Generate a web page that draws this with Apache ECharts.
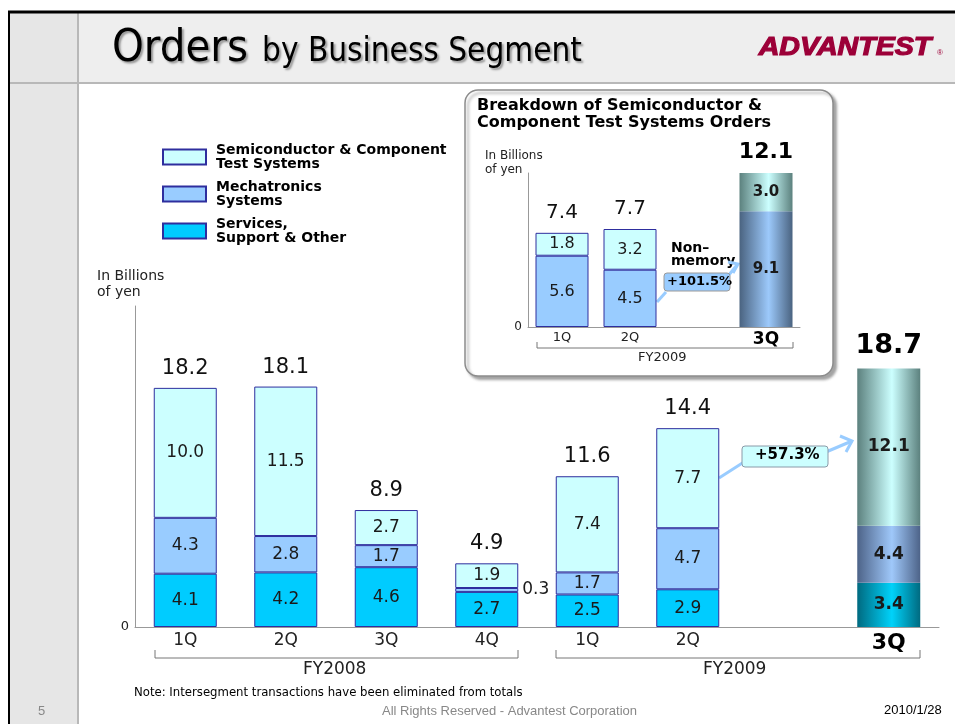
<!DOCTYPE html>
<html>
<head>
<meta charset="utf-8">
<title>Orders by Business Segment</title>
<script src="https://cdn.jsdelivr.net/npm/echarts@6/dist/echarts.min.js"></script>
<style>
    html, body { margin: 0; padding: 0; background: #fff; }
    #chart { width: 955px; height: 724px; }
</style>
</head>
<body>
<div id="chart"></div>
<script>
    // main chart: quarters (empty slot before FY2009 3Q)
    var quarters = ['1Q', '2Q', '3Q', '4Q', '1Q', '2Q', '', '3Q'];
    var semiTest = [10.0, 11.5, 2.7, 1.9, 7.4, 7.7, null, 12.1];
    var mechatronics = [4.3, 2.8, 1.7, 0.3, 1.7, 4.7, null, 4.4];
    var services = [4.1, 4.2, 4.6, 2.7, 2.5, 2.9, null, 3.4];
    var totals = [18.2, 18.1, 8.9, 4.9, 11.6, 14.4, null, 18.7];

    // inset: breakdown of semiconductor & component test systems
    var insetQuarters = ['1Q', '2Q', '', '3Q'];
    var nonMemory = [5.6, 4.5, null, 9.1];
    var memory = [1.8, 3.2, null, 3.0];
    var insetTotals = [7.4, 7.7, null, 12.1];

    var FONT = 'DejaVu Sans, sans-serif';
    var COND = 'DejaVu Sans Condensed, Liberation Sans Narrow, sans-serif';
    var chart = echarts.init(document.getElementById('chart'));

    function grad(edge, mid) {
        return new echarts.graphic.LinearGradient(0, 0, 1, 0, [
            {offset: 0, color: edge}, {offset: 0.55, color: mid}, {offset: 1, color: edge}
        ]);
    }

    // the last (current) quarter is drawn with a shaded bar
    function seg(arr, last, edge, mid, lastIdx) {
        return arr.map(function (v, i) {
            if (v == null) return '-';
            if (i === lastIdx) {
                return {value: v, itemStyle: {color: grad(edge, mid), borderWidth: 0},
                        label: {fontWeight: 'bold', fontSize: last}};
            }
            return v;
        });
    }

    var mechData = seg(mechatronics, 17, '#4d6388', '#9fc8fa', 7);
    mechData[3] = {value: 0.3, label: {position: 'right', distance: 4}};

    var totalLabels = totals.map(function (t) { return t == null ? '-' : 0; });
    var insetTotalLabels = insetTotals.map(function (t) { return t == null ? '-' : 0; });

    function oneDecimal(p) { return Number(p.value).toFixed(1); }

    var segLabel = {show: true, position: 'inside', color: '#1a1a1a', fontSize: 17, fontFamily: FONT, formatter: oneDecimal};
    var insetLabel = {show: true, position: 'inside', color: '#1a1a1a', fontSize: 16, fontFamily: FONT, formatter: oneDecimal};

    var option = {
        animation: false,
        backgroundColor: '#ffffff',
        textStyle: {fontFamily: FONT},
        legend: {
            data: ['Semiconductor & Component\nTest Systems', 'Mechatronics\nSystems', 'Services,\nSupport & Other'],
            orient: 'vertical',
            left: 162,
            top: 143,
            padding: 0,
            icon: 'rect',
            itemWidth: 43,
            itemHeight: 15,
            itemGap: 9,
            selectedMode: false,
            textStyle: {fontSize: 14, fontWeight: 'bold', color: '#000', lineHeight: 14, padding: [0, 0, 0, 5], fontFamily: FONT}
        },
        grid: [
            {left: 135, right: 16, top: 306, bottom: 97},
            {left: 528, right: 155, top: 173, bottom: 397}
        ],
        xAxis: [
            {
                type: 'category', gridIndex: 0, data: quarters,
                axisLine: {lineStyle: {color: '#999', width: 1}},
                axisTick: {show: false},
                axisLabel: {
                    interval: 0, margin: 5, fontSize: 17, color: '#222', fontFamily: FONT,
                    formatter: function (v, i) { return i === 7 ? '{b|' + v + '}' : v; },
                    rich: {b: {fontSize: 22, fontWeight: 'bold', color: '#000', fontFamily: FONT}}
                }
            },
            {
                type: 'category', gridIndex: 1, data: insetQuarters,
                axisLine: {lineStyle: {color: '#999', width: 1}},
                axisTick: {show: false},
                axisLabel: {
                    interval: 0, margin: 4, fontSize: 13, color: '#222', fontFamily: FONT,
                    formatter: function (v, i) { return i === 3 ? '{b|' + v + '}' : v; },
                    rich: {b: {fontSize: 17, fontWeight: 'bold', color: '#000', fontFamily: FONT}}
                }
            }
        ],
        yAxis: [
            {
                type: 'value', gridIndex: 0, min: 0, max: 24.7,
                splitLine: {show: false}, axisTick: {show: false},
                axisLine: {show: true, lineStyle: {color: '#999'}},
                axisLabel: {fontSize: 13, color: '#222', margin: 6, formatter: function (v) { return v === 0 ? '0' : ''; }}
            },
            {
                type: 'value', gridIndex: 1, min: 0, max: 12.1,
                splitLine: {show: false}, axisTick: {show: false},
                axisLine: {show: true, lineStyle: {color: '#999'}},
                axisLabel: {fontSize: 12, color: '#222', margin: 6, formatter: function (v) { return v === 0 ? '0' : ''; }}
            }
        ],
        series: [
            {
                name: 'Services,\nSupport & Other', type: 'bar', stack: 'main', barWidth: 63,
                data: seg(services, 17, '#006a80', '#00d2fa', 7),
                itemStyle: {color: '#00ccff', borderColor: '#2e2e9e', borderWidth: 1},
                label: segLabel
            },
            {
                name: 'Mechatronics\nSystems', type: 'bar', stack: 'main', barWidth: 63,
                data: mechData,
                itemStyle: {color: '#99ccff', borderColor: '#2e2e9e', borderWidth: 1},
                label: segLabel
            },
            {
                name: 'Semiconductor & Component\nTest Systems', type: 'bar', stack: 'main', barWidth: 63,
                data: seg(semiTest, 17, '#5c817e', '#ccffff', 7),
                itemStyle: {color: '#ccffff', borderColor: '#2e2e9e', borderWidth: 1},
                label: segLabel
            },
            {
                name: 'total', type: 'bar', stack: 'main', barWidth: 63,
                data: totalLabels,
                itemStyle: {color: 'transparent'},
                label: {
                    show: true, position: 'top', distance: 9, color: '#111', fontFamily: FONT, fontSize: 21,
                    formatter: function (p) {
                        var t = totals[p.dataIndex];
                        return p.dataIndex === 7 ? '{b|' + t.toFixed(1) + '}' : t.toFixed(1);
                    },
                    rich: {b: {fontSize: 27, fontWeight: 'bold', color: '#000', fontFamily: FONT}}
                }
            },
            {
                name: 'Non-memory', type: 'bar', stack: 'inset', barWidth: 53,
                xAxisIndex: 1, yAxisIndex: 1,
                data: seg(nonMemory, 15, '#4a6380', '#9cc9fb', 3),
                itemStyle: {color: '#99ccff', borderColor: '#2e2e9e', borderWidth: 1},
                label: insetLabel
            },
            {
                name: 'Memory', type: 'bar', stack: 'inset', barWidth: 53,
                xAxisIndex: 1, yAxisIndex: 1,
                data: seg(memory, 15, '#5c817e', '#ccffff', 3),
                itemStyle: {color: '#ccffff', borderColor: '#2e2e9e', borderWidth: 1},
                label: insetLabel
            },
            {
                name: 'insetTotal', type: 'bar', stack: 'inset', barWidth: 53,
                xAxisIndex: 1, yAxisIndex: 1,
                data: insetTotalLabels,
                itemStyle: {color: 'transparent'},
                label: {
                    show: true, position: 'top', distance: 10, color: '#111', fontFamily: FONT, fontSize: 20,
                    formatter: function (p) {
                        var t = insetTotals[p.dataIndex];
                        return p.dataIndex === 3 ? '{b|' + t.toFixed(1) + '}' : t.toFixed(1);
                    },
                    rich: {b: {fontSize: 22, fontWeight: 'bold', color: '#000', fontFamily: FONT}}
                }
            }
        ],
        graphic: [
            // slide frame
            {type: 'rect', z: -10, shape: {x: 10, y: 13, width: 945, height: 70}, style: {fill: '#eeeeee'}},
            {type: 'rect', z: -9, shape: {x: 10, y: 13, width: 68, height: 711}, style: {fill: '#e6e6e6'}},
            {type: 'line', z: -8, shape: {x1: 78, y1: 13, x2: 78, y2: 724}, style: {stroke: '#b8b8b8', lineWidth: 2}},
            {type: 'line', z: -8, shape: {x1: 10, y1: 83, x2: 955, y2: 83}, style: {stroke: '#b8b8b8', lineWidth: 2}},
            {type: 'line', z: -7, shape: {x1: 8, y1: 12, x2: 955, y2: 12}, style: {stroke: '#000', lineWidth: 3}},
            {type: 'line', z: -7, shape: {x1: 9, y1: 12, x2: 9, y2: 724}, style: {stroke: '#000', lineWidth: 2}},
            {
                type: 'text', left: 112, top: 27,
                style: {
                    text: '{a|Orders}{s| }{b|by Business Segment}',
                    rich: {
                        a: {fontSize: 45, fontFamily: COND, fill: '#000',
                            textShadowColor: '#999', textShadowOffsetX: 2, textShadowOffsetY: 2, textShadowBlur: 2},
                        s: {fontSize: 33, width: 14},
                        b: {fontSize: 33, fontFamily: COND, fill: '#000', padding: [6, 0, 0, 0],
                            textShadowColor: '#999', textShadowOffsetX: 2, textShadowOffsetY: 2, textShadowBlur: 2}
                    }
                }
            },
            {
                type: 'text', left: 758, top: 34, scaleX: 1.1,
                style: {text: 'ADVANTEST', fontSize: 26, fontWeight: 'bold', fontStyle: 'italic',
                        fontFamily: 'Liberation Sans, sans-serif', fill: '#9c0038', stroke: '#9c0038', lineWidth: 1.2}
            },
            {type: 'text', left: 937, top: 49, style: {text: '®', fontSize: 8, fill: '#9c0038'}},

            // inset panel
            {
                type: 'rect', z: -5, shape: {x: 465, y: 90, width: 368, height: 286, r: 13},
                style: {fill: '#fff', stroke: '#8c8c8c', lineWidth: 1.5,
                        shadowColor: 'rgba(0,0,0,0.35)', shadowOffsetX: 3, shadowOffsetY: 3, shadowBlur: 3}
            },
            {
                type: 'text', left: 477, top: 97,
                style: {text: 'Breakdown of Semiconductor &\nComponent Test Systems Orders', fontSize: 16,
                        fontWeight: 'bold', lineHeight: 17, fontFamily: FONT, fill: '#000'}
            },
            {type: 'text', left: 485, top: 149, style: {text: 'In Billions\nof yen', fontSize: 12, lineHeight: 14, fontFamily: FONT, fill: '#222'}},
            {type: 'polyline', shape: {points: [[537, 342], [537, 348], [793, 348], [793, 342]]}, style: {stroke: '#777', lineWidth: 1, fill: null}},
            {type: 'text', left: 638, top: 351, style: {text: 'FY2009', fontSize: 13, fontFamily: FONT, fill: '#222'}},
            {type: 'text', left: 671, top: 241, style: {text: 'Non–\nmemory', fontSize: 14, fontWeight: 'bold', lineHeight: 13, fontFamily: FONT, fill: '#000'}},
            {type: 'polyline', shape: {points: [[657, 302], [666, 292]]}, style: {stroke: '#99ccff', lineWidth: 3, fill: null}},
            {type: 'polyline', shape: {points: [[728, 276], [737, 265]]}, style: {stroke: '#99ccff', lineWidth: 3, fill: null}},
            {type: 'polyline', shape: {points: [[728, 262], [738, 264], [733, 273]]}, style: {stroke: '#99ccff', lineWidth: 3, fill: null}},
            {
                type: 'rect', shape: {x: 664, y: 273, width: 66, height: 18, r: 3},
                style: {fill: '#99ccff', stroke: '#9a9a9a', lineWidth: 1}
            },
            {type: 'text', left: 667, top: 275, style: {text: '+101.5%', fontSize: 13, fontWeight: 'bold', fontFamily: FONT, fill: '#000'}},

            // axis notes of main chart
            {type: 'text', left: 97, top: 268, style: {text: 'In Billions\nof yen', fontSize: 14, lineHeight: 16, fontFamily: FONT, fill: '#222'}},
            {type: 'polyline', shape: {points: [[155, 650], [155, 658], [518, 658], [518, 650]]}, style: {stroke: '#777', lineWidth: 1, fill: null}},
            {type: 'polyline', shape: {points: [[556, 650], [556, 658], [920, 658], [920, 650]]}, style: {stroke: '#777', lineWidth: 1, fill: null}},
            {type: 'text', left: 303, top: 661, style: {text: 'FY2008', fontSize: 17, fontFamily: FONT, fill: '#222'}},
            {type: 'text', left: 703, top: 661, style: {text: 'FY2009', fontSize: 17, fontFamily: FONT, fill: '#222'}},

            // +57.3% callout
            {type: 'polyline', shape: {points: [[719, 478], [744, 462]]}, style: {stroke: '#99ccff', lineWidth: 3, fill: null}},
            {type: 'polyline', shape: {points: [[826, 452], [852, 441]]}, style: {stroke: '#99ccff', lineWidth: 3, fill: null}},
            {type: 'polyline', shape: {points: [[840, 436], [852, 441], [846, 452]]}, style: {stroke: '#99ccff', lineWidth: 3, fill: null}},
            {
                type: 'rect', shape: {x: 742, y: 446, width: 86, height: 21, r: 3},
                style: {fill: '#ccffff', stroke: '#8a9aa8', lineWidth: 1}
            },
            {type: 'text', left: 755, top: 448, style: {text: '+57.3%', fontSize: 15, fontWeight: 'bold', fontFamily: FONT, fill: '#000'}},

            // footer
            {type: 'text', left: 134, top: 686, style: {text: 'Note: Intersegment transactions have been eliminated from totals', fontSize: 13, fontFamily: COND, fill: '#000'}},
            {type: 'text', left: 382, top: 705, style: {text: 'All Rights Reserved - Advantest Corporation', fontSize: 13, fontFamily: 'Liberation Sans Narrow, Liberation Sans, sans-serif', fill: '#888'}},
            {type: 'text', left: 884, top: 704, style: {text: '2010/1/28', fontSize: 13, fontFamily: 'Liberation Sans Narrow, Liberation Sans, sans-serif', fill: '#000'}},
            {type: 'text', left: 38, top: 705, style: {text: '5', fontSize: 13, fontFamily: 'Liberation Sans, sans-serif', fill: '#888'}}
        ]
    };

    chart.setOption(option);
    window.addEventListener('resize', function () {
        chart.resize();
    });
</script>
</body>
</html>
